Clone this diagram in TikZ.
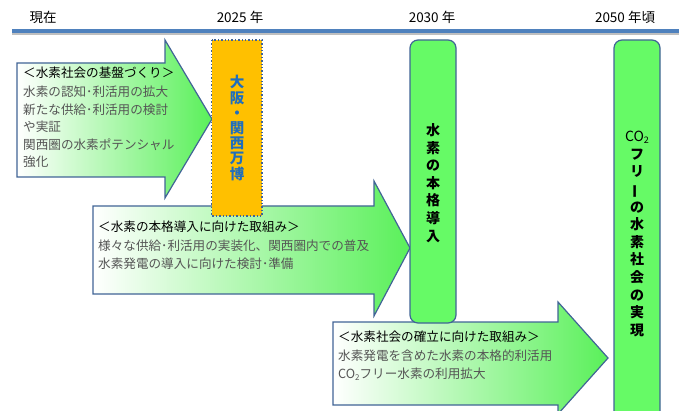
\documentclass[tikz,border=0pt]{standalone}
\usepackage{fontspec}
\setmainfont{Noto Sans CJK JP}
\newfontfamily\jp{Noto Sans CJK JP}
\definecolor{linkblue}{RGB}{79,129,189}
\definecolor{edge}{RGB}{65,100,150}
\definecolor{arrowgreen}{RGB}{90,240,90}
\definecolor{boxgreen}{RGB}{102,250,102}
\definecolor{expo}{RGB}{255,192,0}
\definecolor{expotext}{RGB}{31,110,190}
\definecolor{bodytext}{RGB}{85,85,85}
\tikzset{
  bigarrow/.style={left color=white,right color=arrowgreen,draw=edge,line width=1.2pt,line join=miter},
  goalbox/.style={fill=boxgreen,draw=edge,line width=1.2pt,rounded corners=8pt},
  expobox/.style={fill=expo,draw=edge,line width=1.4pt,dotted},
  yearlabel/.style={font=\jp\fontsize{13.5}{13.5}\selectfont,inner sep=0pt},
  arrowtext/.style={anchor=north west,align=left,inner sep=0pt,font=\jp\fontsize{12.6}{17.6}\selectfont,text=bodytext},
  vtext/.style={align=center,inner sep=0pt,font=\jp\bfseries\fontsize{14}{17.6}\selectfont}
}
\newcommand{\hd}[1]{\textcolor{black}{#1}}
\begin{document}
\begin{tikzpicture}[x=1pt,y=-1pt]
\useasboundingbox (0,0) rectangle (679,411);
\fill[white] (0,0) rectangle (679,411);
% timeline
\coordinate (tlA) at (12,34);
\coordinate (tlB) at (679,34);
\coordinate (tlC) at (12,31);
\coordinate (tlD) at (679,31);
\draw[black!25,line width=3pt] (tlA) -- (tlB);
\draw[linkblue,line width=4.5pt] (tlC) -- (tlD);
\node[yearlabel] (ynow) at (43,17) {現在};
\node[yearlabel] (y2025) at (240,17) {2025 年};
\node[yearlabel] (y2030) at (432,17) {2030 年};
\node[yearlabel] (y2050) at (625,17) {2050 年頃};
% arrow 1
\path[bigarrow] (17,63) -- (165,63) -- (165,40) -- (212,119) -- (165,198) -- (165,177) -- (17,177) -- cycle;
% arrow 2
\path[bigarrow] (93,206) -- (374,206) -- (374,181) -- (410,248) -- (374,316) -- (374,294) -- (93,294) -- cycle;
% arrow 3
\path[bigarrow] (333,322) -- (558,322) -- (558,302) -- (608,358) -- (558,414) -- (558,405) -- (333,405) -- cycle;
% boxes
\path[expobox] (211.5,40) rectangle (262,216);
\path[goalbox] (410,40) rectangle (456,323);
\path[goalbox] (614,40) rectangle (660,425);
% arrow texts
\node[arrowtext] (t1) at (23,67) {\hd{＜水素社会の基盤づくり＞}\\[1pt]水素の認知･利活用の拡大\\新たな供給･利活用の検討\\や実証\\関西圏の水素ポテンシャル\\強化};
\node[arrowtext] (t2) at (98,221) {\hd{＜水素の本格導入に向けた取組み＞}\\[1pt]様々な供給･利活用の実装化、関西圏内での普及\\水素発電の導入に向けた検討･準備};
\node[arrowtext] (t3) at (338,331) {\hd{＜水素社会の確立に向けた取組み＞}\\[1pt]水素発電を含めた水素の本格的利活用\\CO\raisebox{-2pt}{\fontsize{8}{8}\selectfont 2}フリー水素の利用拡大};
% vertical texts
\node[vtext,text=expotext,font=\jp\bfseries\fontsize{14.5}{15.2}\selectfont] (v1) at (237,128) {大\\阪\\・\\関\\西\\万\\博};
\node[vtext] (v2) at (433,183) {水\\素\\の\\本\\格\\導\\入};
\node[vtext] (v3) at (637,234) {{\mdseries CO\raisebox{-2pt}{\fontsize{9}{9}\selectfont 2}}\\フ\\リ\\\rotatebox[origin=c]{90}{ー}\\の\\水\\素\\社\\会\\の\\実\\現};
\end{tikzpicture}
\end{document}
